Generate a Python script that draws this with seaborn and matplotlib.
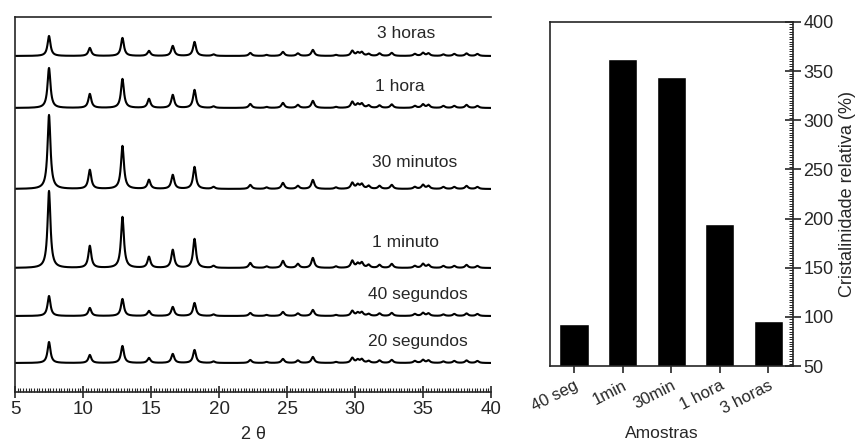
import numpy as np
import pandas as pd
import matplotlib
matplotlib.use("Agg")
import matplotlib.pyplot as plt
from matplotlib.ticker import MultipleLocator
import seaborn as sns

# XRD: peak positions (2 theta) and peak heights per sample
peak_pos = [7.5, 10.5, 12.9, 14.85, 16.6, 18.2, 19.6, 22.3, 23.5, 24.7, 25.8, 26.9, 28.6,
            29.8, 30.2, 30.5, 31.0, 31.8, 32.7, 34.4, 35.0, 35.4, 36.5, 37.3, 38.2, 39.0]

samples = ["20 segundos", "40 segundos", "1 minuto", "30 minutos", "1 hora", "3 horas"]
baselines = [29, 76, 124, 203, 284, 336]

h_20s = [21, 8, 17, 5, 9, 13, 1.5, 3, 1, 4, 2.5, 6, 1, 5, 3, 3.5, 2, 2.5, 3, 2, 3, 2.5, 1.5, 2, 2.5, 2]
h_40s = [20, 8, 17, 5, 9, 13, 1.5, 3, 1, 4, 2.5, 6, 1, 5, 3, 3.5, 2, 2.5, 3, 2, 3, 2.5, 1.5, 2, 2.5, 2]
h_1m = [77, 22, 51, 11, 18, 29, 2, 5, 1.5, 7, 4, 10, 1.5, 7, 4, 5, 3, 3, 4, 2, 4, 3, 2, 2, 3, 2]
h_30m = [74, 19, 43, 9, 14, 22, 2, 4, 1.5, 6, 3, 9, 1.5, 6, 4, 4.5, 3, 3, 4, 2, 4, 3, 2, 2, 3, 2]
h_1h = [40, 14, 29, 9, 13, 18, 1.5, 4, 1, 5, 3, 7, 1, 6, 3.5, 4, 2.5, 2.5, 3.5, 2, 3.5, 3, 2, 2, 3, 2]
h_3h = [20, 8, 18, 5, 10, 14, 1.5, 3, 1, 4, 2.5, 6, 1, 5, 3, 3.5, 2, 2.5, 3, 2, 3, 2.5, 1.5, 2, 2.5, 2]
heights = [h_20s, h_40s, h_1m, h_30m, h_1h, h_3h]

# bar chart
bar_labels = ["40 seg", "1min", "30min", "1 hora", "3 horas"]
bar_values = [92.5, 362, 343.5, 194, 95.5]

# where the sample names sit (left edge in 2 theta, height above the baseline)
label_x = [30.95, 30.95, 31.25, 31.25, 31.45, 31.6]
label_dy = [22, 22, 26, 26, 21, 22]

sns.set_style("ticks")
plt.rcParams["font.family"] = ["Liberation Sans", "DejaVu Sans"]
plt.rcParams["axes.linewidth"] = 1.2

# build the patterns from the peaks (lorentzian profiles)
two_theta = np.arange(5, 40.001, 0.02)
gamma = 0.13
rows = []
for name, base, hs in zip(samples, baselines, heights):
    y = np.full_like(two_theta, float(base))
    for p, h in zip(peak_pos, hs):
        y += h / (1 + ((two_theta - p) / gamma) ** 2)
    rows.append(pd.DataFrame({"two_theta": two_theta, "intensity": y, "amostra": name}))
xrd = pd.concat(rows, ignore_index=True)

fig = plt.figure(figsize=(8.58, 4.47), dpi=100)
ax1 = fig.add_axes([0.0175, 0.123, 0.5548, 0.839])
ax2 = fig.add_axes([0.6407, 0.181, 0.2833, 0.770])

sns.lineplot(data=xrd, x="two_theta", y="intensity", hue="amostra",
             palette=["black"] * len(samples), linewidth=1.5, legend=False,
             estimator=None, ax=ax1)
for name, base, lx, dy in zip(samples, baselines, label_x, label_dy):
    ax1.text(lx, base + dy, name, ha="left", va="center", fontsize=12.5)

ax1.set_xlim(5, 40)
ax1.set_ylim(0, 375)
ax1.set_yticks([])
ax1.set_ylabel("")
ax1.set_xlabel("2 θ", fontsize=13, labelpad=6)
ax1.xaxis.set_major_locator(MultipleLocator(5))
ax1.xaxis.set_minor_locator(MultipleLocator(0.2))
ax1.tick_params(axis="x", which="major", direction="inout", length=9, width=1.2, labelsize=13.5, pad=2)
ax1.tick_params(axis="x", which="minor", direction="in", length=3, width=0.8)
ax1.spines["right"].set_visible(False)

sns.barplot(x=bar_labels, y=bar_values, color="black", width=0.6, ax=ax2)
ax2.set_xlim(-0.5, 4.5)
ax2.set_ylim(50, 400)
ax2.yaxis.tick_right()
ax2.yaxis.set_label_position("right")
ax2.yaxis.set_major_locator(MultipleLocator(50))
ax2.yaxis.set_minor_locator(MultipleLocator(2.5))
ax2.tick_params(axis="y", which="major", direction="inout", length=11, width=1.2, labelsize=13, pad=2)
ax2.tick_params(axis="y", which="minor", direction="in", length=3, width=0.7)
ax2.tick_params(axis="x", which="major", direction="out", length=5, width=1.2, labelsize=12)
for lab in ax2.get_xticklabels():
    lab.set_rotation(27)
    lab.set_ha("right")
    lab.set_va("top")
    lab.set_rotation_mode("anchor")
ax2.set_ylabel("Cristalinidade relativa (%)", fontsize=13)
ax2.set_xlabel("Amostras", fontsize=12.5)
ax2.xaxis.set_label_coords(0.46, -0.175)

fig.savefig("out.png", dpi=100)
plt.close(fig)
